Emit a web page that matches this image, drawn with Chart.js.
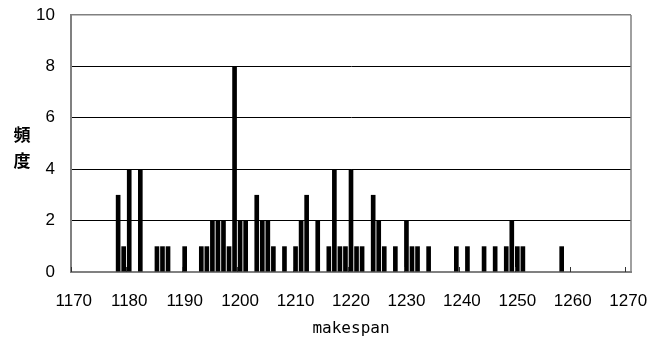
<!DOCTYPE html>
<html>
<head>
<meta charset="utf-8">
<script src="https://cdn.jsdelivr.net/npm/chart.js@4.4.1/dist/chart.umd.min.js"></script>
<style>
  html, body { margin: 0; padding: 0; background: #fff; }
  #wrap { width: 652px; height: 343px; position: relative; }
</style>
</head>
<body>
<div id="wrap"><canvas id="c" width="652" height="343"></canvas></div>
<script>
const makespanValues = [1178, 1179, 1180, 1182, 1185, 1186, 1187, 1190, 1193, 1194,
  1195, 1196, 1197, 1198, 1199, 1200, 1201, 1203, 1204, 1205,
  1206, 1208, 1210, 1211, 1212, 1214, 1216, 1217, 1218, 1219,
  1220, 1221, 1222, 1224, 1225, 1226, 1228, 1230, 1231, 1232,
  1234, 1239, 1241, 1244, 1246, 1248, 1249, 1250, 1251, 1258];
const frequencies = [3, 1, 4, 4, 1, 1, 1, 1, 1, 1,
  2, 2, 2, 1, 8, 2, 2, 3, 2, 2,
  1, 1, 1, 2, 3, 2, 1, 4, 1, 1,
  4, 1, 1, 3, 2, 1, 1, 2, 1, 1,
  1, 1, 1, 1, 1, 1, 2, 1, 1, 1];
const xTickValues = [1170, 1180, 1190, 1200, 1210, 1220, 1230, 1240, 1250, 1260, 1270];
const yTickValues = [0, 2, 4, 6, 8, 10];
const xTitle = 'makespan';
const yTitleChars = ['頻', '度'];

const extras = {
  id: 'extras',
  afterDraw(chart) {
    const ctx = chart.ctx;
    const a = chart.chartArea;
    const xs = chart.scales.x;
    ctx.save();
    // right border
    ctx.strokeStyle = '#808080';
    ctx.lineWidth = 1.5;
    ctx.beginPath();
    ctx.moveTo(a.right, a.top);
    ctx.lineTo(a.right, a.bottom);
    ctx.stroke();
    // inward tick marks at category boundaries
    ctx.strokeStyle = '#333';
    ctx.lineWidth = 1;
    xTickValues.forEach(v => {
      const px = Math.round(xs.getPixelForValue(v - 0.5)) + 0.5;
      ctx.beginPath();
      ctx.moveTo(px, a.bottom);
      ctx.lineTo(px, a.bottom - 5);
      ctx.stroke();
    });
    // vertical stacked y title
    ctx.fillStyle = '#000';
    ctx.font = 'bold 17px "Noto Sans CJK JP"';
    ctx.textAlign = 'center';
    ctx.textBaseline = 'middle';
    ctx.fillText(yTitleChars[0], a.left - 49, a.top + 120);
    ctx.fillText(yTitleChars[1], a.left - 49, a.top + 146);
    ctx.restore();
  }
};

new Chart(document.getElementById('c'), {
  type: 'bar',
  data: {
    datasets: [{
      data: makespanValues.map((v, i) => ({ x: v, y: frequencies[i] })),
      backgroundColor: '#000',
      borderWidth: 0,
      barPercentage: 0.84,
      categoryPercentage: 1.0
    }]
  },
  options: {
    responsive: false,
    animation: false,
    layout: { padding: { left: 0, right: 21, top: 15, bottom: 0 } },
    plugins: { legend: { display: false }, tooltip: { enabled: false } },
    scales: {
      x: {
        type: 'linear',
        offset: false,
        min: 1169.5,
        max: 1270.5,
        afterBuildTicks: s => { s.ticks = xTickValues.map(v => ({ value: v })); },
        afterFit: s => { s.height = 71; s.paddingLeft = 0; s.paddingRight = 0; },
        grid: { drawOnChartArea: false, drawTicks: false, offset: false },
        border: { display: true, color: '#808080', width: 2 },
        ticks: {
          autoSkip: false, maxRotation: 0, padding: 19,
          color: '#000',
          callback: v => String(v),
          font: { family: '"Liberation Sans", Arial', size: 17 }
        },
        title: {
          display: true, text: xTitle, color: '#000',
          font: { family: '"DejaVu Sans Mono"', size: 16 },
          padding: { top: 2, bottom: 5 }
        }
      },
      y: {
        min: 0,
        max: 10,
        afterBuildTicks: s => { s.ticks = yTickValues.map(v => ({ value: v })); },
        afterFit: s => { s.width = 71; s.paddingTop = 0; s.paddingBottom = 0; },
        grid: {
          drawTicks: false,
          color: c => (c.tick && c.tick.value === 10) ? '#808080' : (c.tick && c.tick.value === 0 ? 'rgba(0,0,0,0)' : '#000'),
          lineWidth: c => (c.tick && c.tick.value === 10) ? 1.5 : 1
        },
        border: { display: true, color: '#808080', width: 2 },
        ticks: {
          padding: 16,
          color: '#000',
          font: { family: '"Liberation Sans", Arial', size: 17 }
        }
      }
    }
  },
  plugins: [extras]
});
</script>
</body>
</html>
